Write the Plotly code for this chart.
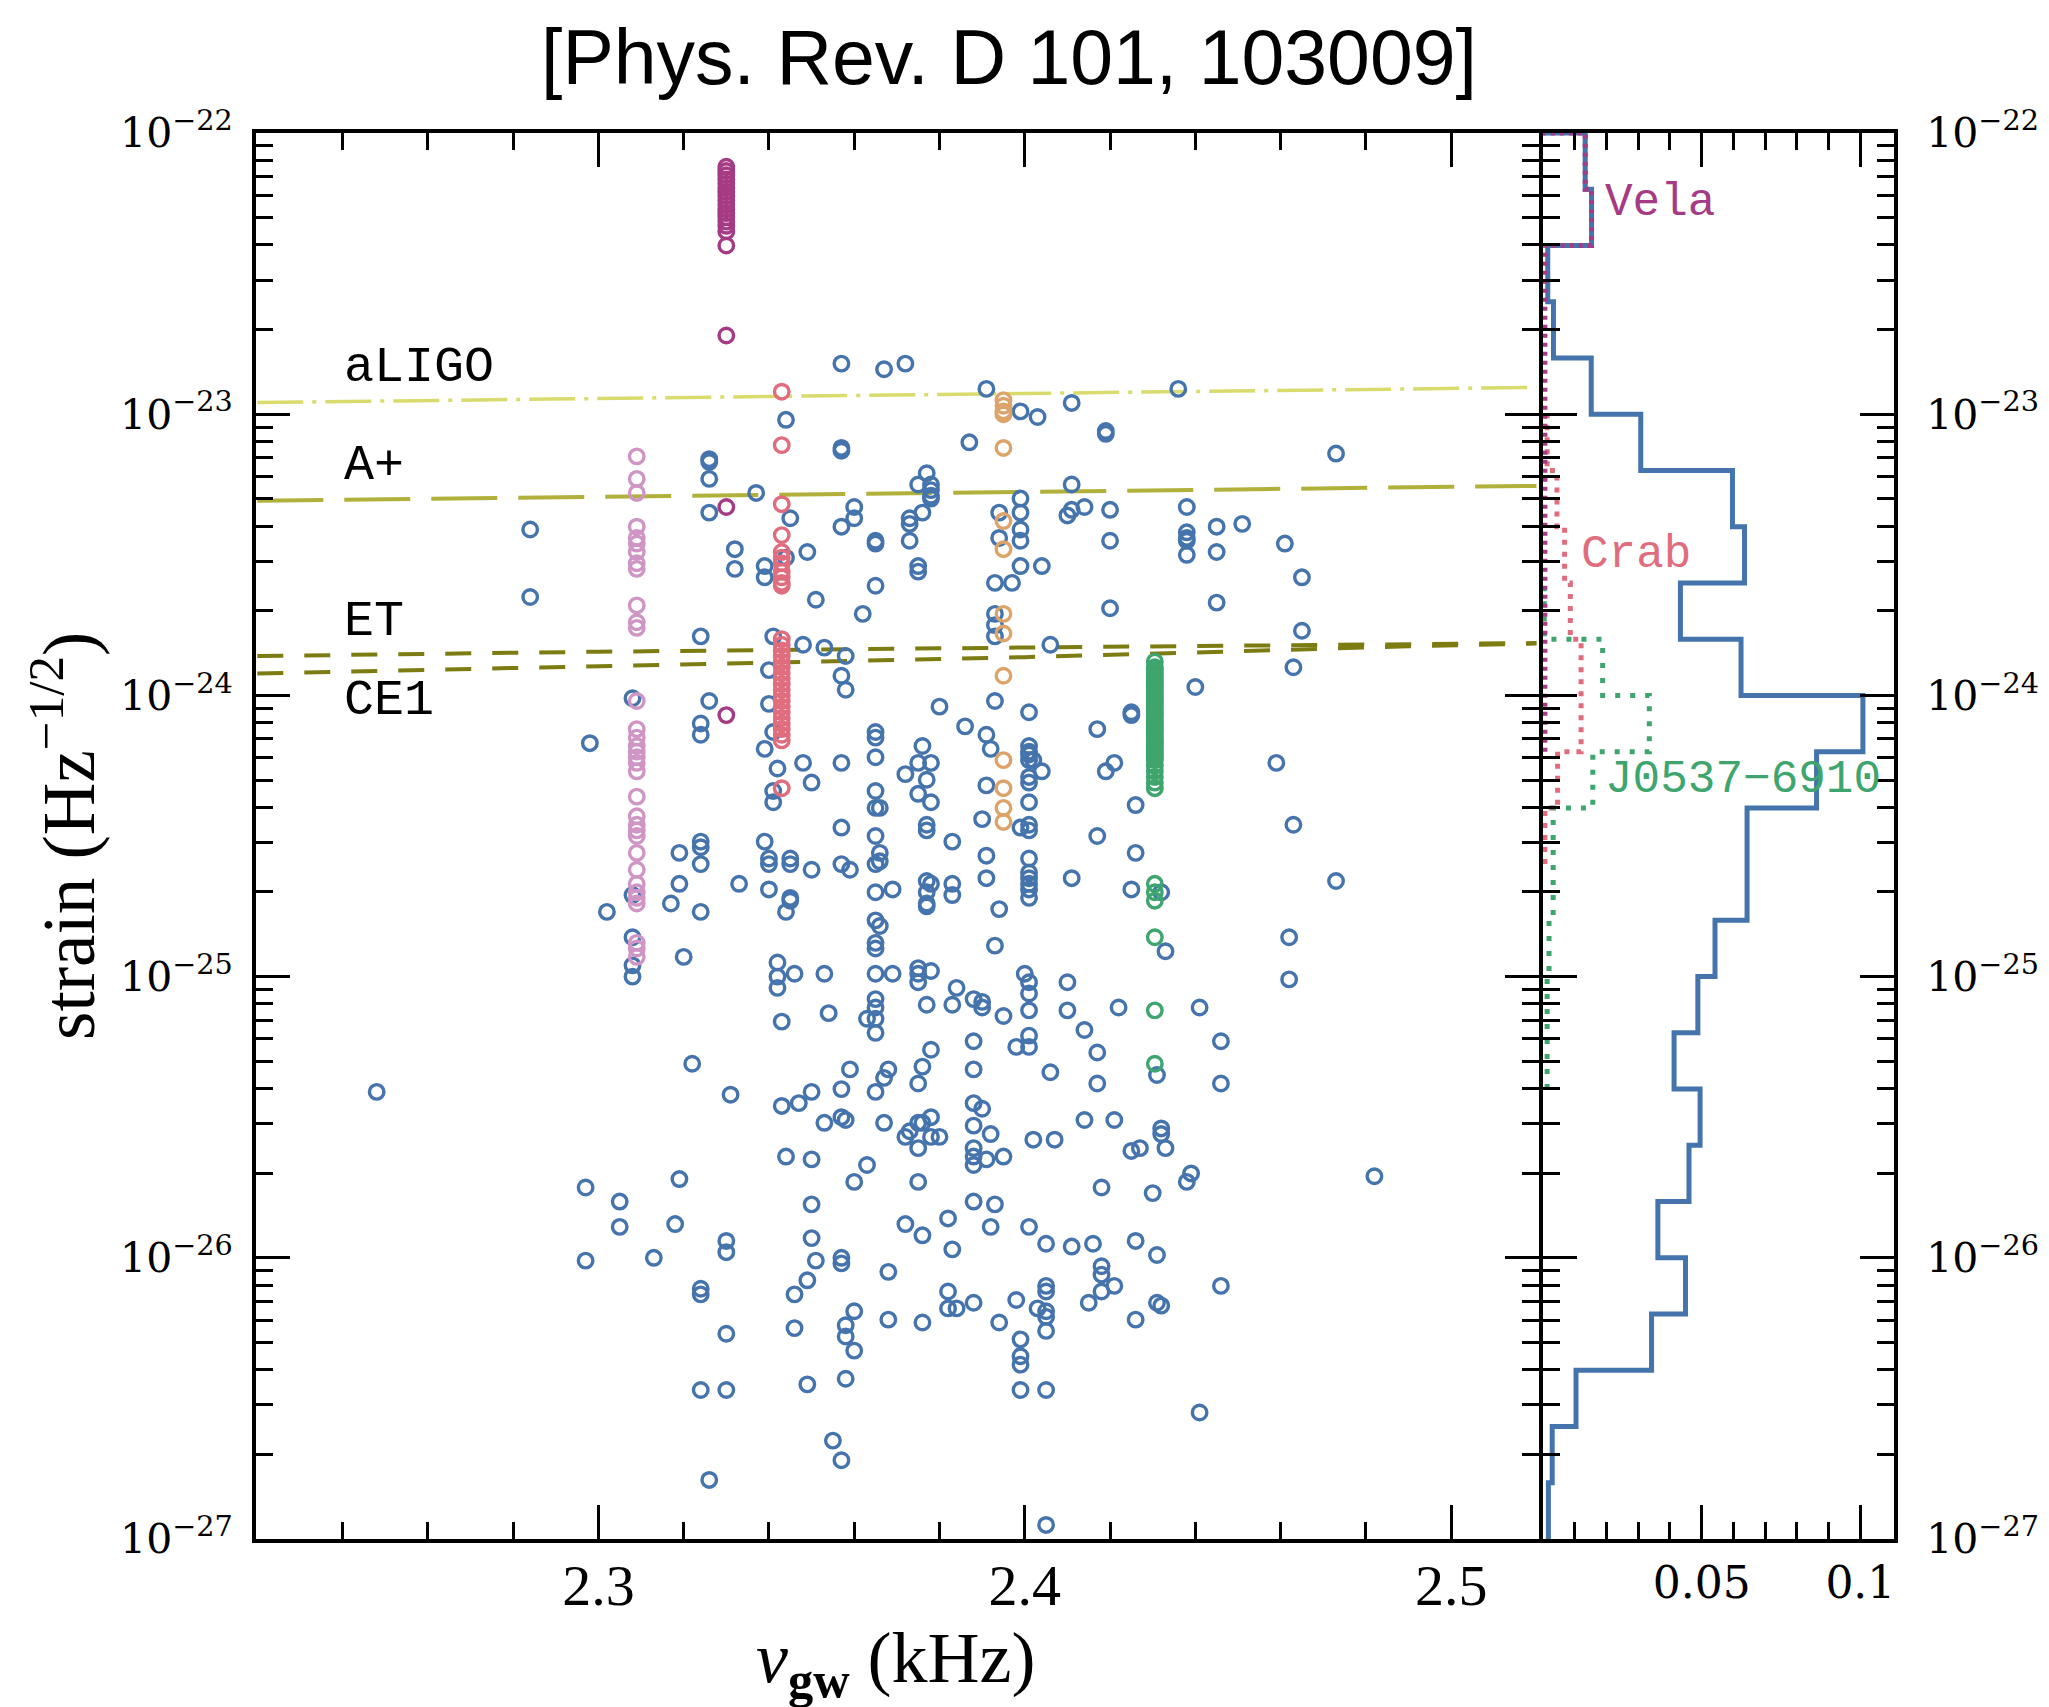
import plotly.graph_objects as go

# ---------------- detector sensitivity curves (kHz, strain Hz^-1/2) ----------------
aligo_freq = [2.22, 2.30, 2.40, 2.52]
aligo_h = [1.10e-23, 1.14e-23, 1.185e-23, 1.245e-23]
aplus_freq = [2.22, 2.30, 2.40, 2.52]
aplus_h = [4.92e-24, 5.08e-24, 5.32e-24, 5.56e-24]
et_freq = [2.22, 2.30, 2.40, 2.45, 2.52]
et_h = [1.38e-24, 1.43e-24, 1.48e-24, 1.50e-24, 1.535e-24]
ce1_freq = [2.22, 2.30, 2.40, 2.45, 2.49, 2.52]
ce1_h = [1.197e-24, 1.27e-24, 1.368e-24, 1.435e-24, 1.496e-24, 1.53e-24]

# ---------------- source population: frequency (kHz) and log10 strain ----------------
field_freq_khz = [
    2.357, 2.367, 2.372, 2.391, 2.399, 2.344, 2.357, 2.357, 2.387, 2.326,
    2.326, 2.326, 2.337, 2.377, 2.375, 2.378, 2.378, 2.378, 2.378, 2.399,
    2.399, 2.399, 2.399, 2.326, 2.284, 2.345, 2.360, 2.360, 2.357, 2.373,
    2.376, 2.373, 2.373, 2.394, 2.394, 2.365, 2.365, 2.332, 2.332, 2.344,
    2.349, 2.339, 2.339, 2.375, 2.375, 2.399, 2.393, 2.397, 2.284, 2.365,
    2.351, 2.362, 2.393, 2.393, 2.393, 2.324, 2.341, 2.348, 2.353, 2.358,
    2.340, 2.357, 2.358, 2.308, 2.340, 2.326, 2.324, 2.324, 2.341, 2.380,
    2.393, 2.298, 2.365, 2.365, 2.386, 2.391, 2.392, 2.376, 2.339, 2.348,
    2.350, 2.357, 2.365, 2.372, 2.375, 2.378, 2.377, 2.342, 2.341, 2.341,
    2.391, 2.365, 2.365, 2.366, 2.375, 2.378, 2.390, 2.357, 2.377, 2.377,
    2.399, 2.339, 2.365, 2.383, 2.324, 2.324, 2.319, 2.324, 2.340, 2.340,
    2.345, 2.345, 2.350, 2.357, 2.359, 2.366, 2.365, 2.366, 2.391, 2.391,
    2.319, 2.333, 2.340, 2.365, 2.369, 2.377, 2.378, 2.377, 2.377, 2.377,
    2.383, 2.383, 2.345, 2.345, 2.344, 2.308, 2.317, 2.302, 2.324, 2.394,
    2.411, 2.403, 2.436, 2.419, 2.419, 2.473, 2.411, 2.410, 2.411, 2.414,
    2.420, 2.438, 2.420, 2.438, 2.438, 2.438, 2.438, 2.445, 2.451, 2.445,
    2.461, 2.404, 2.465, 2.420, 2.445, 2.465, 2.406, 2.463, 2.440, 2.401,
    2.425, 2.425, 2.417, 2.401, 2.401, 2.401, 2.401, 2.402, 2.404, 2.401,
    2.401, 2.421, 2.419, 2.459, 2.401, 2.426, 2.463, 2.401, 2.401, 2.417,
    2.426, 2.401, 2.401, 2.401, 2.401, 2.401, 2.401, 2.411, 2.425, 2.473,
    2.432, 2.308, 2.308, 2.308, 2.320, 2.342, 2.342, 2.342, 2.346, 2.353,
    2.365, 2.366, 2.365, 2.365, 2.365, 2.369, 2.375, 2.375, 2.375, 2.378,
    2.365, 2.365, 2.365, 2.365, 2.363, 2.354, 2.343, 2.377, 2.378, 2.376,
    2.375, 2.368, 2.367, 2.359, 2.357, 2.365, 2.350, 2.347, 2.343, 2.322,
    2.331, 2.248, 2.353, 2.357, 2.358, 2.367, 2.373, 2.375, 2.376, 2.378,
    2.372, 2.375, 2.378, 2.380, 2.344, 2.350, 2.363, 2.360, 2.375, 2.319,
    2.297, 2.305, 2.305, 2.318, 2.297, 2.313, 2.330, 2.330, 2.350, 2.350,
    2.351, 2.357, 2.357, 2.368, 2.372, 2.376, 2.324, 2.324, 2.349, 2.346,
    2.360, 2.358, 2.358, 2.360, 2.368, 2.376, 2.346, 2.330, 2.324, 2.330,
    2.349, 2.358, 2.355, 2.357, 2.326, 2.393, 2.462, 2.462, 2.433, 2.384,
    2.388, 2.390, 2.390, 2.383, 2.395, 2.400, 2.401, 2.401, 2.401, 2.410,
    2.410, 2.422, 2.441, 2.414, 2.417, 2.417, 2.446, 2.446, 2.388, 2.388,
    2.398, 2.401, 2.401, 2.406, 2.431, 2.388, 2.390, 2.388, 2.392, 2.388,
    2.388, 2.388, 2.391, 2.395, 2.402, 2.407, 2.414, 2.421, 2.432, 2.432,
    2.433, 2.425, 2.427, 2.439, 2.438, 2.418, 2.430, 2.482, 2.388, 2.393,
    2.382, 2.392, 2.383, 2.401, 2.405, 2.411, 2.416, 2.426, 2.431, 2.418,
    2.418, 2.421, 2.418, 2.415, 2.405, 2.405, 2.446, 2.382, 2.382, 2.384,
    2.388, 2.398, 2.403, 2.405, 2.405, 2.405, 2.431, 2.432, 2.426, 2.394,
    2.399, 2.399, 2.399, 2.399, 2.405, 2.441, 2.405,
]
field_log_h = [
    -22.82, -22.84, -22.82, -22.91, -22.99, -23.02, -23.12, -23.13, -23.10, -23.16,
    -23.17, -23.23, -23.28, -23.21, -23.25, -23.25, -23.27, -23.29, -23.30, -23.30,
    -23.35, -23.41, -23.45, -23.35, -23.41, -23.37, -23.33, -23.37, -23.40, -23.37,
    -23.35, -23.39, -23.45, -23.35, -23.44, -23.45, -23.46, -23.48, -23.55, -23.51,
    -23.49, -23.54, -23.58, -23.54, -23.56, -23.54, -23.60, -23.60, -23.65, -23.61,
    -23.66, -23.71, -23.71, -23.75, -23.79, -23.79, -23.79, -23.82, -23.83, -23.86,
    -23.91, -23.93, -23.98, -24.01, -24.03, -24.02, -24.10, -24.14, -24.13, -24.04,
    -24.02, -24.17, -24.13, -24.15, -24.11, -24.14, -24.19, -24.18, -24.19, -24.24,
    -24.31, -24.24, -24.22, -24.28, -24.24, -24.24, -24.30, -24.26, -24.34, -24.38,
    -24.32, -24.34, -24.40, -24.40, -24.35, -24.38, -24.44, -24.47, -24.46, -24.48,
    -24.47, -24.52, -24.50, -24.52, -24.52, -24.54, -24.56, -24.60, -24.58, -24.60,
    -24.58, -24.60, -24.62, -24.60, -24.62, -24.56, -24.60, -24.59, -24.57, -24.65,
    -24.67, -24.67, -24.69, -24.70, -24.69, -24.66, -24.67, -24.70, -24.74, -24.75,
    -24.67, -24.71, -24.72, -24.73, -24.77, -24.71, -24.74, -24.77, -24.77, -24.76,
    -22.96, -23.01, -22.91, -23.06, -23.07, -23.14, -23.25, -23.36, -23.34, -23.33,
    -23.34, -23.33, -23.45, -23.42, -23.44, -23.45, -23.50, -23.40, -23.39, -23.49,
    -23.46, -23.54, -23.58, -23.69, -23.67, -23.77, -23.82, -23.90, -23.97, -24.06,
    -24.06, -24.07, -24.12, -24.18, -24.20, -24.21, -24.23, -24.23, -24.27, -24.29,
    -24.31, -24.24, -24.27, -24.24, -24.38, -24.39, -24.46, -24.46, -24.48, -24.50,
    -24.56, -24.58, -24.63, -24.65, -24.67, -24.69, -24.72, -24.65, -24.69, -24.66,
    -24.70, -24.86, -24.96, -25.00, -24.93, -24.95, -25.00, -25.04, -24.99, -24.99,
    -24.80, -24.82, -24.88, -24.90, -24.99, -24.99, -24.97, -24.99, -25.02, -24.98,
    -25.08, -25.11, -25.15, -25.20, -25.15, -25.13, -25.16, -25.10, -25.26, -25.32,
    -25.38, -25.33, -25.36, -25.33, -25.40, -25.41, -25.41, -25.45, -25.46, -25.31,
    -25.42, -25.41, -25.52, -25.50, -25.51, -25.52, -25.55, -25.52, -25.52, -25.50,
    -25.57, -25.61, -25.57, -25.57, -25.64, -25.65, -25.67, -25.73, -25.73, -25.72,
    -25.75, -25.80, -25.89, -25.88, -26.01, -26.00, -25.94, -25.98, -25.81, -25.93,
    -26.01, -26.00, -26.02, -26.05, -25.88, -25.92, -26.11, -26.13, -26.08, -26.13,
    -26.19, -26.24, -26.28, -26.33, -26.22, -26.23, -26.25, -26.27, -26.47, -26.47,
    -26.45, -26.43, -26.65, -26.72, -26.79, -24.89, -24.86, -25.01, -24.91, -25.04,
    -25.08, -25.09, -25.11, -25.10, -25.14, -24.99, -25.02, -25.06, -25.12, -25.02,
    -25.12, -25.11, -25.11, -25.19, -25.27, -25.38, -25.23, -25.38, -25.23, -25.33,
    -25.25, -25.21, -25.25, -25.34, -25.35, -25.45, -25.47, -25.53, -25.56, -25.61,
    -25.64, -25.67, -25.65, -25.64, -25.58, -25.58, -25.51, -25.51, -25.54, -25.56,
    -25.61, -25.62, -25.61, -25.70, -25.73, -25.75, -25.77, -25.71, -25.80, -25.81,
    -25.86, -25.89, -25.97, -25.89, -25.95, -25.96, -25.95, -25.94, -25.99, -26.03,
    -26.06, -26.10, -26.12, -26.16, -26.10, -26.12, -26.10, -26.12, -26.18, -26.18,
    -26.16, -26.15, -26.18, -26.19, -26.21, -26.26, -26.16, -26.17, -26.22, -26.23,
    -26.29, -26.35, -26.38, -26.47, -26.47, -26.55, -26.95,
]

# Known pulsars: one gravitational-wave frequency each (kHz), many strain estimates
vela_freq_khz = 2.330
vela_log_h = [-22.12, -22.135, -22.15, -22.165, -22.18, -22.195, -22.21, -22.225,
              -22.24, -22.255, -22.27, -22.285, -22.30, -22.315, -22.33, -22.35,
              -22.40, -22.72, -23.33, -24.07]
crab_freq_khz = 2.343
crab_log_h = [-22.92, -23.11, -23.32, -23.43, -23.49, -23.51, -23.53, -23.56, -23.58,
              -23.60, -23.61, -23.80, -23.82, -23.84, -23.86, -23.88, -23.90, -23.92,
              -23.94, -23.96, -23.98, -24.00, -24.02, -24.04, -24.06, -24.08, -24.10,
              -24.12, -24.14, -24.16, -24.33]
lilac_freq_khz = 2.309
lilac_log_h = [-23.15, -23.23, -23.28, -23.40, -23.44, -23.46, -23.49, -23.53, -23.55,
               -23.68, -23.74, -23.76, -24.02, -24.12, -24.15, -24.18, -24.20, -24.22,
               -24.24, -24.27, -24.36, -24.43, -24.46, -24.48, -24.50, -24.56, -24.62,
               -24.67, -24.70, -24.72, -24.74, -24.88, -24.90, -24.93]
orange_freq_khz = 2.395
orange_log_h = [-22.95, -22.97, -22.99, -23.00, -23.12, -23.38, -23.48, -23.71, -23.78,
                -23.93, -24.23, -24.33, -24.40, -24.45]
j0537_freq_khz = 2.4305
j0537_log_h = [-23.88, -23.90, -23.91, -23.92, -23.93, -23.94, -23.95, -23.96, -23.97,
               -23.98, -23.99, -24.00, -24.01, -24.02, -24.03, -24.04, -24.05, -24.06,
               -24.07, -24.08, -24.09, -24.10, -24.11, -24.12, -24.13, -24.14, -24.15,
               -24.16, -24.17, -24.18, -24.19, -24.20, -24.21, -24.22, -24.23, -24.25,
               -24.27, -24.29, -24.31, -24.33, -24.67, -24.70, -24.73, -24.86, -25.12,
               -25.31]

# ---------------- strain histograms (fraction per 0.2-dex bin) ----------------
hist_edges_log = [-27.0, -26.8, -26.6, -26.4, -26.2, -26.0, -25.8, -25.6, -25.4,
                  -25.2, -25.0, -24.8, -24.6, -24.4, -24.2, -24.0, -23.8, -23.6,
                  -23.4, -23.2, -23.0, -22.8, -22.6, -22.4, -22.2, -22.0]
hist_all = [0.0017, 0.0029, 0.0104, 0.0342, 0.0449, 0.0362, 0.0460, 0.0495, 0.0413,
            0.0488, 0.0542, 0.0643, 0.0643, 0.0862, 0.1008, 0.0624, 0.0433, 0.0635,
            0.0597, 0.0308, 0.0152, 0.0033, 0.0015, 0.0153, 0.0133]
hist_vela = [None] * 14 + [0.0006, 0.0006, 0.0006, 0.0006, 0.0006, 0.0006, 0.0006,
                           0.0006, 0.0006, 0.0153, 0.0133]
hist_crab = [None] * 12 + [0.0006, 0.0046, 0.0120, 0.0120, 0.0086, 0.0068, 0.0044,
                           0.0013] + [None] * 5
hist_j0537 = [None] * 8 + [0.0013, 0.0013, 0.0019, 0.0032, 0.0032, 0.0157, 0.0335,
                           0.0188, 0.0004] + [None] * 8

# ---------------- tick labels ----------------
y_tick_vals = [1e-27, 1e-26, 1e-25, 1e-24, 1e-23, 1e-22]
y_tick_text = ["10<sup>−27</sup>", "10<sup>−26</sup>", "10<sup>−25</sup>",
               "10<sup>−24</sup>", "10<sup>−23</sup>", "10<sup>−22</sup>"]
freq_tick_vals = [2.3, 2.4, 2.5]
freq_tick_text = ["2.3", "2.4", "2.5"]
freq_minor_vals = [2.24, 2.26, 2.28, 2.32, 2.34, 2.36, 2.38, 2.42, 2.44, 2.46, 2.48]
frac_tick_vals = [0.05, 0.1]
frac_tick_text = ["0.05", "0.1"]
frac_minor_vals = [0.01, 0.02, 0.03, 0.04, 0.06, 0.07, 0.08, 0.09]

# ---------------- colours ----------------
C_FIELD = "#4574ad"
C_VELA = "#a53a85"
C_CRAB = "#e06d7e"
C_LILAC = "#cf95c4"
C_ORANGE = "#dca46a"
C_J0537 = "#3da56d"


def to_strain(log_values):
    return [10.0 ** v for v in log_values]


def step_outline(edges_log, fractions, close_top=False):
    """Vertical histogram outline: one vertical segment per bin."""
    xs, ys = [], []
    for i, f in enumerate(fractions):
        if f is None:
            continue
        xs += [f, f]
        ys += [10.0 ** edges_log[i], 10.0 ** edges_log[i + 1]]
    if close_top:
        xs.append(0.0)
        ys.append(10.0 ** edges_log[-1])
    return xs, ys


fig = go.Figure()

# sensitivity curves
fig.add_trace(go.Scatter(x=aligo_freq, y=aligo_h, mode="lines",
                         line=dict(color="#d9db6c", width=3.5, dash="46px,9px,4px,9px"),
                         hoverinfo="skip"))
fig.add_trace(go.Scatter(x=aplus_freq, y=aplus_h, mode="lines",
                         line=dict(color="#b0b03a", width=4, dash="66px,21px"),
                         hoverinfo="skip"))
fig.add_trace(go.Scatter(x=et_freq, y=et_h, mode="lines",
                         line=dict(color="#7c7c12", width=4, dash="26px,21px"),
                         hoverinfo="skip"))
fig.add_trace(go.Scatter(x=ce1_freq, y=ce1_h, mode="lines",
                         line=dict(color="#7c7c12", width=4, dash="26px,21px"),
                         hoverinfo="skip"))

marker_base = dict(symbol="circle-open", size=14.5)


def add_points(freqs, logs, color):
    fig.add_trace(go.Scatter(x=freqs, y=to_strain(logs), mode="markers",
                             marker=dict(color=color, line=dict(color=color, width=3.4),
                                         **marker_base)))


add_points(field_freq_khz, field_log_h, C_FIELD)
add_points([lilac_freq_khz] * len(lilac_log_h), lilac_log_h, C_LILAC)
add_points([orange_freq_khz] * len(orange_log_h), orange_log_h, C_ORANGE)
add_points([crab_freq_khz] * len(crab_log_h), crab_log_h, C_CRAB)
add_points([vela_freq_khz] * len(vela_log_h), vela_log_h, C_VELA)
add_points([j0537_freq_khz] * len(j0537_log_h), j0537_log_h, C_J0537)

# histogram panel
hx, hy = step_outline(hist_edges_log, hist_all, close_top=True)
fig.add_trace(go.Scatter(x=hx, y=hy, mode="lines", xaxis="x2", yaxis="y2",
                         line=dict(color=C_FIELD, width=5), hoverinfo="skip"))
hx, hy = step_outline(hist_edges_log, hist_crab)
fig.add_trace(go.Scatter(x=hx, y=hy, mode="lines", xaxis="x2", yaxis="y2",
                         line=dict(color=C_CRAB, width=5, dash="5px,7px"), hoverinfo="skip"))
hx, hy = step_outline(hist_edges_log, hist_j0537)
fig.add_trace(go.Scatter(x=hx, y=hy, mode="lines", xaxis="x2", yaxis="y2",
                         line=dict(color=C_J0537, width=5, dash="5px,10px"), hoverinfo="skip"))
hx, hy = step_outline(hist_edges_log, hist_vela, close_top=True)
fig.add_trace(go.Scatter(x=hx, y=hy, mode="lines", xaxis="x2", yaxis="y2",
                         line=dict(color=C_VELA, width=5, dash="4px,5px"), hoverinfo="skip"))

# ---------------- layout ----------------
W, H = 2049, 1707
left, right, top, bottom = 256, 1894, 133, 1539
split_px = 1539
pw, ph = right - left, bottom - top
split_main = (split_px - left) / pw
split_hist = (split_px + 4 - left) / pw


def px_x(p):
    return (p - left) / pw


def px_y(p):
    return (bottom - p) / ph


axis_common = dict(showline=True, linecolor="black", linewidth=4, ticks="inside",
                   tickcolor="black", tickwidth=3, ticklen=34, mirror="allticks",
                   showgrid=False, zeroline=False, automargin=False)
minor_common = dict(ticks="inside", ticklen=17, tickwidth=3, tickcolor="black",
                    showgrid=False, tickmode="array")
y_minor_vals = [m * 10.0 ** e for e in range(-27, -22) for m in range(2, 10)]

serif_ticks = dict(family="DejaVu Serif", size=44, color="black")
serif_ticks_y = dict(family="DejaVu Serif", size=41, color="black")

fig.update_layout(
    width=W, height=H, autosize=False,
    margin=dict(l=left, r=W - right, t=top, b=H - bottom, pad=0, autoexpand=False),
    paper_bgcolor="white", plot_bgcolor="white", showlegend=False,
    title=dict(text="[Phys. Rev. D 101, 103009]", x=1009 / W, xref="container",
               y=1 - 57 / H, yref="container", xanchor="center", yanchor="middle",
               font=dict(family="Liberation Sans", size=77, color="black")),
    xaxis=dict(domain=[0, split_main], range=[2.2197, 2.5206], anchor="y",
               tickmode="array", tickvals=freq_tick_vals, ticktext=freq_tick_text,
               tickfont=dict(family="Liberation Serif", size=58, color="black"),
               ticklabelstandoff=-8,
               minor=dict(tickvals=freq_minor_vals, **minor_common), **axis_common),
    yaxis=dict(type="log", range=[-27, -22], anchor="x",
               tickmode="array", tickvals=y_tick_vals, ticktext=y_tick_text,
               tickfont=serif_ticks_y, ticklabelstandoff=11,
               minor=dict(tickvals=y_minor_vals, **minor_common), **axis_common),
    xaxis2=dict(domain=[split_hist, 1], range=[0, 0.1106], anchor="y2",
                tickmode="array", tickvals=frac_tick_vals, ticktext=frac_tick_text,
                tickfont=serif_ticks, ticklabelstandoff=2,
                minor=dict(tickvals=frac_minor_vals, **minor_common), **axis_common),
    yaxis2=dict(type="log", range=[-27, -22], anchor="x2", side="right",
                tickmode="array", tickvals=y_tick_vals, ticktext=y_tick_text,
                tickfont=serif_ticks_y, ticklabelstandoff=20,
                minor=dict(tickvals=y_minor_vals, **minor_common), **axis_common),
)

mono = "Liberation Mono"
annotations = [
    dict(text="aLIGO", x=px_x(342), y=px_y(368), font=dict(family=mono, size=50, color="black")),
    dict(text="A+", x=px_x(342), y=px_y(466), font=dict(family=mono, size=50, color="black")),
    dict(text="ET", x=px_x(342), y=px_y(621), font=dict(family=mono, size=50, color="black")),
    dict(text="CE1", x=px_x(342), y=px_y(700), font=dict(family=mono, size=50, color="black")),
    dict(text="Vela", x=px_x(1603), y=px_y(203), font=dict(family=mono, size=46, color=C_VELA)),
    dict(text="Crab", x=px_x(1579), y=px_y(555), font=dict(family=mono, size=46, color=C_CRAB)),
    dict(text="J0537−6910", x=px_x(1603), y=px_y(780), font=dict(family=mono, size=46, color=C_J0537)),
]
for a in annotations:
    fig.add_annotation(xref="paper", yref="paper", xanchor="left", yanchor="middle",
                       showarrow=False, **a)

# axis titles
fig.add_annotation(text="<i>ν</i><sub><b>gw</b></sub> (kHz)", xref="paper", yref="paper",
                   x=px_x(895), y=px_y(1663), xanchor="center", yanchor="middle",
                   showarrow=False,
                   font=dict(family="Liberation Serif", size=72, color="black"))
fig.add_annotation(text="strain (Hz<sup>−1/2</sup>)", xref="paper", yref="paper",
                   x=px_x(63), y=px_y(836), xanchor="center", yanchor="middle",
                   textangle=-90, showarrow=False,
                   font=dict(family="Liberation Serif", size=73, color="black"))

fig.write_html("out.html")
